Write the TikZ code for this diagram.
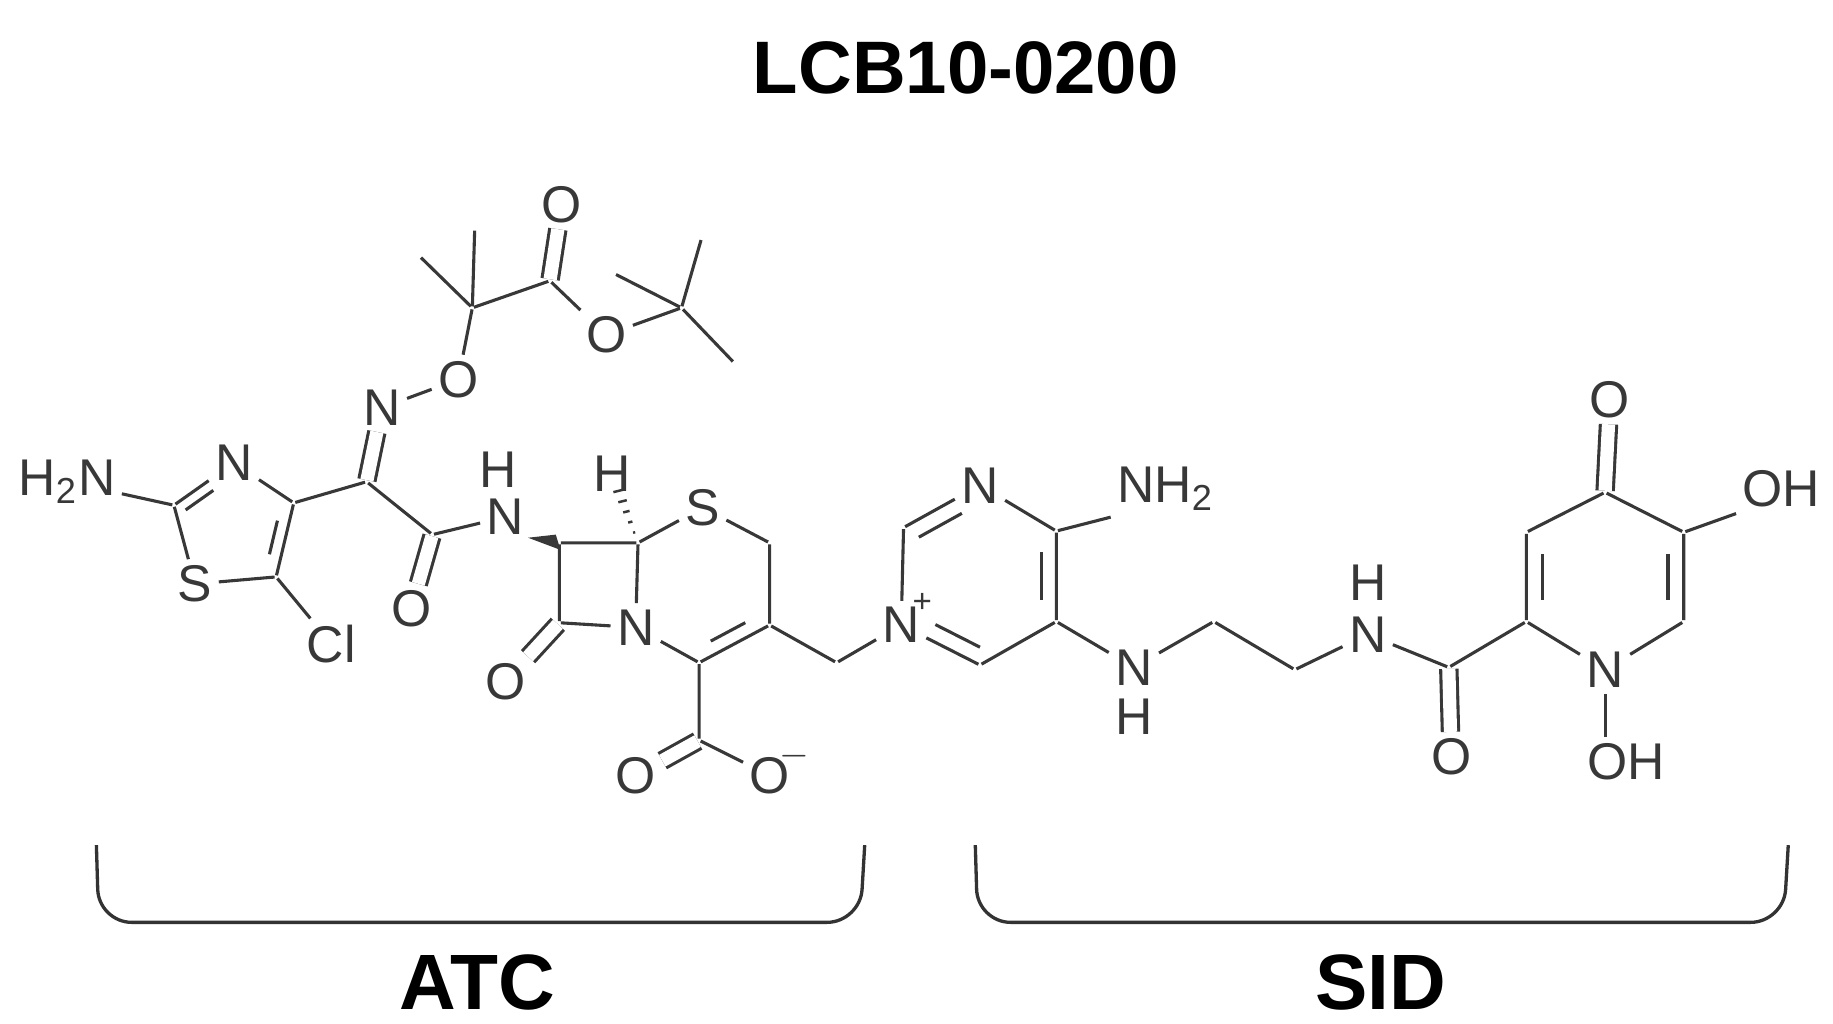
\documentclass[tikz,border=0pt]{standalone}
\usepackage{fontspec}
\setmainfont{Liberation Sans}
\usetikzlibrary{calc}
\begin{document}
\begin{tikzpicture}[x=0.01cm,y=-0.01cm,line width=0.75pt,
  bond/.style={draw=black!78},
  dbl/.style={bond,double=white,double distance=3.2pt},
  atom/.style={inner sep=1.2pt,text=black!78,font=\fontsize{12.5}{12.5}\selectfont},
  c/.style={inner sep=0pt,minimum size=0pt},
  head/.style={font=\fontsize{18}{18}\selectfont\bfseries},
  lab/.style={font=\fontsize{19}{19}\selectfont\bfseries}]
\useasboundingbox (0,0) rectangle (1560,871);
\node[head] (title) at (822,58) {LCB10-0200};
% thiazole
\node[atom] (nh2a) at (57,410) {H\textsubscript{2}N};
\node[c] (t2) at (148,430) {};
\node[atom] (t3) at (199,394) {N};
\node[c] (t4) at (250,428) {};
\node[c] (t5) at (235,491) {};
\node[atom] (t1) at (166,497) {S};
\node[atom] (cl) at (282,548) {Cl};
\coordinate (tc) at (198,450);
\draw[bond] (nh2a)--(t2)--(t3)--(t4)--(t5)--(t1)--(t2);
\draw[bond] (t5)--(cl);
\draw[bond,shorten <=6pt] ($(t3)!0.2!(tc)$)--($(t2)!0.2!(tc)$);
\draw[bond,shorten <=3pt,shorten >=3pt] ($(t4)!0.22!(tc)$)--($(t5)!0.22!(tc)$);
% oxime side chain
\node[c] (ca) at (312,410) {};
\node[atom] (nox) at (325,347) {N};
\node[atom] (oox) at (390,323) {O};
\node[c] (cq) at (402,262) {};
\node[c] (me1) at (404,195) {};
\node[c] (me2) at (357,218) {};
\node[c] (cc) at (468,239) {};
\node[atom] (oc) at (478,174) {O};
\node[atom] (oe) at (516,285) {O};
\node[c] (ct) at (580,262) {};
\node[c] (mt1) at (597,203) {};
\node[c] (mt2) at (523,233) {};
\node[c] (mt3) at (625,309) {};
\draw[bond] (t4)--(ca);
\draw[dbl] (ca)--(nox);
\draw[bond] (nox)--(oox)--(cq)--(me1);
\draw[bond] (cq)--(me2);
\draw[bond] (cq)--(cc)--(oe)--(ct)--(mt1);
\draw[bond] (ct)--(mt2);
\draw[bond] (ct)--(mt3);
\draw[dbl] (cc)--(oc);
% amide
\node[c] (cam) at (368,455) {};
\node[atom] (oam) at (350,518) {O};
\node[atom] (nh1) at (430,440) {N};
\node[atom] (h1) at (424,400) {H};
\draw[bond] (ca)--(cam)--(nh1);
\draw[dbl] (cam)--(oam);
% beta-lactam / dihydrothiazine
\node[c] (c7) at (476,462) {};
\node[c] (c6) at (543,462) {};
\node[atom] (h6) at (521,403) {H};
\node[atom] (s1) at (598,432) {S};
\node[c] (c2r) at (655,462) {};
\node[c] (c3) at (655,532) {};
\node[c] (c4) at (595,564) {};
\node[atom] (n5) at (541,534) {N};
\node[c] (c8) at (476,530) {};
\node[atom] (o8) at (430,580) {O};
\node[c] (ccoo) at (595,630) {};
\node[atom] (o1) at (541,660) {O};
\node[atom] (o2) at (655,660) {O};
\node[atom,font=\fontsize{9}{9}\selectfont] (ominus) at (676,644) {$-$};
\coordinate (rc) at (598,497);
\fill[black!78] ($(nh1.south east)+(-2,-3)$) -- ($(c7)+(-3,-7)$) -- ($(c7)+(1,6)$) -- cycle;
\foreach \f in {0.15,0.3,0.45,0.6,0.75}{
  \draw[bond,line width=0.6pt] ($(c6)!\f!(h6)+(-\f*6,\f*1.5)$)--($(c6)!\f!(h6)+(\f*6,-\f*1.5)$);}
\draw[bond] (c7)--(c6)--(s1)--(c2r)--(c3);
\draw[bond] (c3)--(c4)--(n5)--(c6);
\draw[bond] (n5)--(c8)--(c7);
\draw[dbl] (c8)--(o8);
\draw[bond,shorten <=3pt,shorten >=3pt] ($(c3)!0.2!(rc)$)--($(c4)!0.2!(rc)$);
\draw[bond] (c4)--(ccoo)--(o2);
\draw[dbl] (ccoo)--(o1);
% linker
\node[c] (ch2) at (712,564) {};
\draw[bond] (c3)--(ch2);
% pyrimidinium
\node[atom] (np) at (767,532) {N};
\node[atom,font=\fontsize{8}{8}\selectfont,inner sep=0pt] (plus) at (785,513) {+};
\node[c] (pa) at (769,449) {};
\node[atom] (pb) at (834,413) {N};
\node[c] (pc) at (899,452) {};
\node[c] (pd) at (899,529) {};
\node[c] (pe) at (834,566) {};
\node[atom] (nh2b) at (992,416) {NH\textsubscript{2}};
\coordinate (pcn) at (834,490);
\draw[bond] (ch2)--(np)--(pa)--(pb)--(pc)--(pd)--(pe)--(np);
\draw[bond,shorten >=5pt] ($(pa)!0.2!(pcn)$)--($(pb)!0.2!(pcn)$);
\draw[bond,shorten <=3pt,shorten >=3pt] ($(pc)!0.2!(pcn)$)--($(pd)!0.2!(pcn)$);
\draw[bond,shorten <=5pt] ($(np)!0.2!(pcn)$)--($(pe)!0.2!(pcn)$);
\draw[bond] (pc)--(nh2b.south west);
% ethylenediamine
\node[atom] (nh3) at (965,568) {N};
\node[atom] (h3) at (965,610) {H};
\node[c] (e1) at (1033,529) {};
\node[c] (e2) at (1102,570) {};
\node[atom] (nh4) at (1164,540) {N};
\node[atom] (h4) at (1164,496) {H};
\draw[bond] (pd)--(nh3)--(e1)--(e2)--(nh4);
% amide 2
\node[c] (ca2) at (1233,568) {};
\node[atom] (oa2) at (1235,644) {O};
\draw[bond] (nh4)--(ca2);
\draw[dbl] (ca2)--(oa2);
% pyridinone
\node[c] (q2) at (1299,529) {};
\node[atom] (q1) at (1366,570) {N};
\node[c] (q6) at (1433,529) {};
\node[c] (q5) at (1433,453) {};
\node[c] (q4) at (1366,419) {};
\node[c] (q3) at (1299,453) {};
\node[atom] (o4) at (1370,340) {O};
\node[atom] (oh5) at (1516,416) {OH};
\node[atom] (oh1) at (1384,648) {OH};
\coordinate (qc) at (1366,491);
\draw[bond] (ca2)--(q2)--(q1)--(q6)--(q5)--(q4)--(q3)--(q2);
\draw[bond,shorten <=3pt,shorten >=3pt] ($(q2)!0.2!(qc)$)--($(q3)!0.2!(qc)$);
\draw[bond,shorten <=3pt,shorten >=3pt] ($(q5)!0.2!(qc)$)--($(q6)!0.2!(qc)$);
\draw[dbl] (q4)--(o4);
\draw[bond] (q5)--(oh5.south west);
\draw[bond] (q1.south)--(q1.south |- oh1.north);
% brackets
\node[c] (b1a) at (82,718) {};
\node[c] (b1b) at (736,718) {};
\node[c] (b2a) at (830,718) {};
\node[c] (b2b) at (1522,718) {};
\draw[black!80,line width=0.8pt,rounded corners=8pt] (b1a)--++(2,67)--($(b1b)+(-4,67)$)--(b1b);
\draw[black!80,line width=0.8pt,rounded corners=8pt] (b2a)--++(2,67)--($(b2b)+(-4,67)$)--(b2b);
\node[lab] (atc) at (406,836) {ATC};
\node[lab] (sid) at (1175,836) {SID};
\end{tikzpicture}
\end{document}
